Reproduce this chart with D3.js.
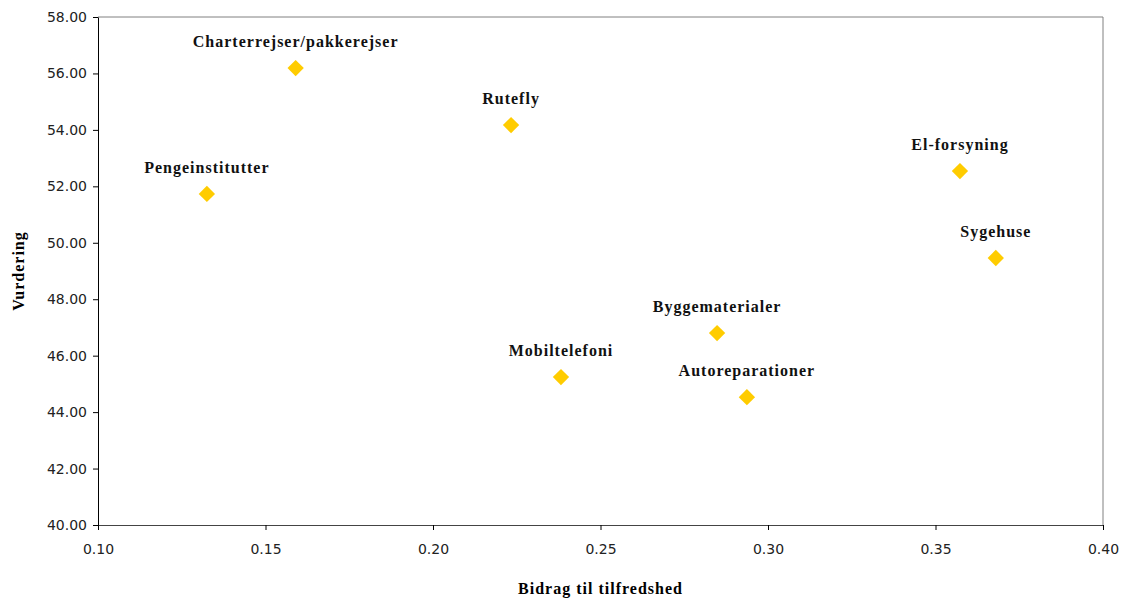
<!DOCTYPE html>
<html><head><meta charset="utf-8">
<script src="https://cdn.jsdelivr.net/npm/d3@7"></script>
<style>body{margin:0;background:#fff}</style>
</head><body>
<svg id="c" width="1122" height="600"></svg>
<script>
const categories = ["Charterrejser/pakkerejser","Rutefly","Pengeinstitutter","El-forsyning","Sygehuse","Byggematerialer","Mobiltelefoni","Autoreparationer"];
const bidrag = [0.159, 0.2233, 0.1325, 0.3573, 0.368, 0.2848, 0.2382, 0.2937];
const vurdering = [56.19, 54.17, 51.73, 52.54, 49.46, 46.80, 45.24, 44.53];
const xTicks = [0.10,0.15,0.20,0.25,0.30,0.35,0.40];
const yTicks = [40,42,44,46,48,50,52,54,56,58];

const svg = d3.select("#c");
const L=98, R=1103, T=17, B=525;
const x = d3.scaleLinear().domain([0.10,0.40]).range([L,R]);
const y = d3.scaleLinear().domain([40,58]).range([B,T]);

svg.append("path").attr("d",`M${L},${T}H${R}V${B}`).attr("fill","none").attr("stroke","#808080").attr("stroke-width",1);

const tickFont = "'DejaVu Sans', sans-serif";
const yAxis = svg.append("g").attr("transform",`translate(${L},0)`)
  .call(d3.axisLeft(y).tickValues(yTicks).tickSize(5).tickSizeOuter(0).tickPadding(6).tickFormat(d3.format(".2f")));
const xAxis = svg.append("g").attr("transform",`translate(0,${B})`)
  .call(d3.axisBottom(x).tickValues(xTicks).tickSize(5).tickSizeOuter(0).tickPadding(14).tickFormat(d3.format(".2f")));
[yAxis,xAxis].forEach(a=>{
  a.select(".domain").attr("stroke","#000");
  a.selectAll("line").attr("stroke","#000");
  a.selectAll("text").attr("font-family",tickFont).attr("font-size",14).attr("fill","#222");
});
xAxis.select(".domain").attr("stroke","#444");

const sym = d3.symbol().type(d3.symbolDiamond2).size(170);
const pts = categories.map((c,i)=>({c, x:bidrag[i], y:vurdering[i]}));
svg.append("g").selectAll("path").data(pts).join("path")
  .attr("d",sym).attr("transform",d=>`translate(${x(d.x)},${y(d.y)})`)
  .attr("fill","#FFCC00");

const serif = "'Liberation Serif', serif";
svg.append("g").selectAll("text").data(pts).join("text")
  .attr("x",d=>x(d.x)).attr("y",d=>y(d.y)-21)
  .attr("text-anchor","middle")
  .attr("font-family",serif).attr("font-weight","bold").attr("font-size",16)
  .attr("letter-spacing","1px")
  .attr("fill","#111").text(d=>d.c);

svg.append("text").attr("x",(L+R)/2).attr("y",594).attr("text-anchor","middle")
  .attr("font-family",serif).attr("font-weight","bold").attr("font-size",16).attr("letter-spacing","1px")
  .text("Bidrag til tilfredshed");
svg.append("text").attr("transform",`translate(24,${(T+B)/2}) rotate(-90)`).attr("text-anchor","middle")
  .attr("font-family",serif).attr("font-weight","bold").attr("font-size",16).attr("letter-spacing","1px")
  .text("Vurdering");
</script>
</body></html>
